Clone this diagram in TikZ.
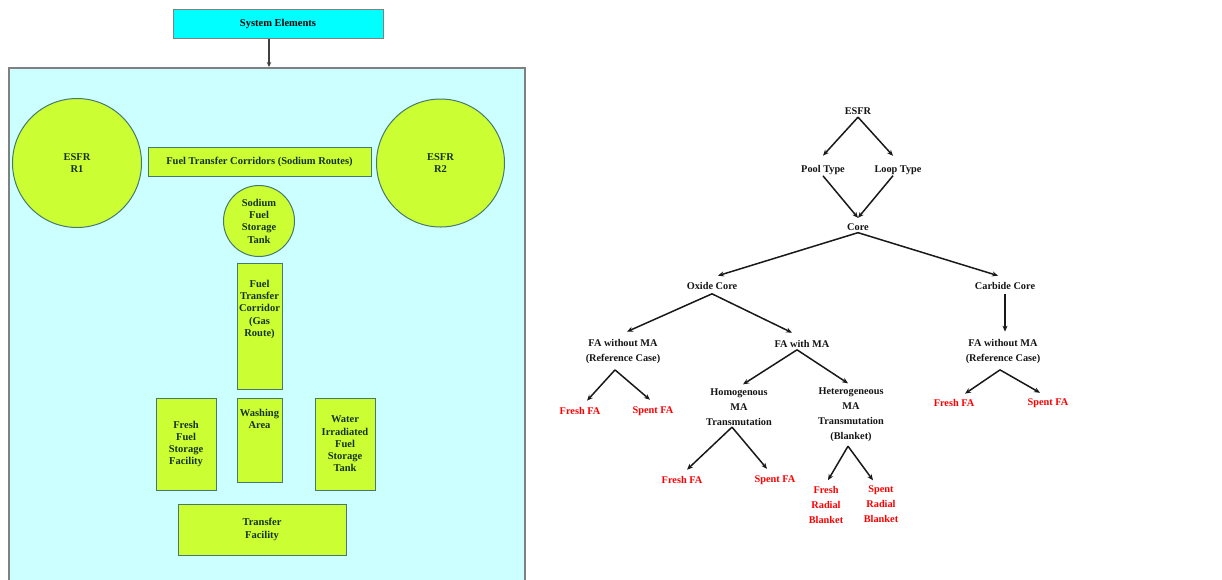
\documentclass[tikz,border=0pt]{standalone}
\usepackage{fontspec}
\setmainfont{Liberation Serif}
\usetikzlibrary{arrows.meta}
\definecolor{cyanbox}{RGB}{0,255,255}
\definecolor{lightcy}{RGB}{204,255,255}
\definecolor{ygreen}{RGB}{204,255,51}
\definecolor{ledge}{RGB}{70,120,110}
\definecolor{ltext}{RGB}{20,50,30}
\definecolor{gborder}{RGB}{128,128,128}
\begin{document}
\begin{tikzpicture}[x=1pt,y=-1pt,
  lfont/.style={font=\fontsize{10.5}{12.3}\selectfont\bfseries},
  rfont/.style={font=\fontsize{10.3}{15}\selectfont\bfseries},
  ybox/.style={draw=ledge,line width=1pt,fill=ygreen,inner sep=0pt,align=center,text=ltext,lfont},
  ycirc/.style={circle,draw=ledge,line width=1pt,fill=ygreen,inner sep=0pt,align=center,text=ltext,lfont},
  rnode/.style={inner sep=0pt,align=center,text={rgb,255:red,20;green,20;blue,20},rfont},
  red/.style={rnode,text={rgb,255:red,255;green,0;blue,0}},
  arr/.style={-{Stealth[length=6pt,width=5pt]},line width=1.5pt,black!90},
  larr/.style={-{Stealth[length=5pt,width=4.5pt]},line width=1.2pt,black!75}]
\useasboundingbox (0,0) rectangle (1222,579);
% ---------- left panel ----------
\node[draw=gborder,line width=1pt,fill=cyanbox,minimum width=210pt,minimum height=29pt,inner sep=0pt,lfont,text=black] (se) at (278,23.5) {System Elements};
\node[draw=gborder,line width=1.5pt,fill=lightcy,minimum width=516pt,minimum height=530pt,inner sep=0pt,anchor=north west] (sys) at (8,67) {};
\draw[larr] ([xshift=-9pt]se.south) -- ([xshift=-9pt]se.south |- sys.north);
\node[ycirc,minimum size=129pt] (r1) at (77,163) {ESFR\\R1};
\node[ycirc,minimum size=128pt] (r2) at (440.5,163) {ESFR\\R2};
\node[ybox,minimum width=223pt,minimum height=29pt] (ftc) at (259.5,161.5) {Fuel Transfer Corridors (Sodium Routes)};
\node[ycirc,minimum size=71pt] (tank) at (259,221) {Sodium\\Fuel\\Storage\\Tank};
\node[ybox] (gas) at (259.5,326) {\parbox[c][126pt][t]{45pt}{\centering\vspace*{17pt}Fuel\\Transfer\\Corridor\\(Gas\\Route)}};
\node[ybox,minimum width=60pt,minimum height=92pt] (ffs) at (186,444) {Fresh\\Fuel\\Storage\\Facility};
\node[ybox] (wash) at (259.5,440) {\parbox[c][84pt][t]{45pt}{\centering\vspace*{11pt}Washing\\Area}};
\node[ybox,minimum width=60pt,minimum height=92pt] (water) at (345,444) {Water\\Irradiated\\Fuel\\Storage\\Tank};
\node[ybox,minimum width=168pt,minimum height=51pt] (tf) at (262,529.5) {Transfer\\Facility};
% ---------- right tree ----------
\node[rnode] (esfr) at (858,111) {ESFR};
\node[rnode] (pool) at (823,170) {Pool Type};
\node[rnode] (loop) at (898,170) {Loop Type};
\node[rnode] (core) at (858,227) {Core};
\node[rnode] (oxide) at (712,286) {Oxide Core};
\node[rnode] (carbide) at (1005,286) {Carbide Core};
\node[rnode] (faw1) at (623,351.5) {FA without MA\\(Reference Case)};
\node[rnode] (fawma) at (802,344) {FA with MA};
\node[rnode] (faw2) at (1003,351.5) {FA without MA\\(Reference Case)};
\node[red] (fresh1) at (580,411) {Fresh FA};
\node[red] (spent1) at (653,411) {Spent FA};
\node[rnode] (homo) at (739,407.5) {Homogenous\\MA\\Transmutation};
\node[rnode] (hetero) at (851,415) {Heterogeneous\\MA\\Transmutation\\(Blanket)};
\node[red] (fresh2) at (682,480) {Fresh FA};
\node[red] (spent2) at (775,480) {Spent FA};
\node[red] (fresh3) at (826,504.5) {Fresh\\Radial\\Blanket};
\node[red] (spent3) at (881,504.5) {Spent\\Radial\\Blanket};
\node[red] (fresh4) at (954,403) {Fresh FA};
\node[red] (spent4) at (1048,403) {Spent FA};
\draw[arr] ([yshift=-2.5pt]esfr.south) -- ([yshift=9.5pt]pool.north);
\draw[arr] ([yshift=-2.5pt]esfr.south) -- ([xshift=-5pt,yshift=9.5pt]loop.north);
\draw[arr] ([yshift=-1pt]pool.south) -- ([yshift=5.5pt]core.north);
\draw[arr] ([xshift=-5pt,yshift=-1pt]loop.south) -- ([yshift=5.5pt]core.north);
\draw[arr] ([yshift=-2pt]core.south) -- ([xshift=6pt,yshift=6.5pt]oxide.north);
\draw[arr] ([yshift=-2pt]core.south) -- ([xshift=-7pt,yshift=6.5pt]carbide.north);
\draw[arr] ([yshift=-4pt]oxide.south) -- ([xshift=4pt,yshift=7.5pt]faw1.north);
\draw[arr] ([yshift=-4pt]oxide.south) -- ([xshift=-10pt,yshift=7.5pt]fawma.north);
\draw[arr] ([yshift=-4pt]carbide.south) -- ([xshift=2pt,yshift=7.5pt]faw2.north);
\draw[arr] ([xshift=-8pt,yshift=-6pt]faw1.south) -- ([xshift=7pt,yshift=6.5pt]fresh1.north);
\draw[arr] ([xshift=-8pt,yshift=-6pt]faw1.south) -- ([xshift=-3pt,yshift=6.5pt]spent1.north);
\draw[arr] ([xshift=-5pt,yshift=-2pt]fawma.south) -- ([xshift=4pt,yshift=4.5pt]homo.north);
\draw[arr] ([xshift=-5pt,yshift=-2pt]fawma.south) -- ([xshift=-3pt,yshift=4.5pt]hetero.north);
\draw[arr] ([xshift=-7pt,yshift=-1pt]homo.south) -- ([xshift=5pt,yshift=6.5pt]fresh2.north);
\draw[arr] ([xshift=-7pt,yshift=-1pt]homo.south) -- ([xshift=-8pt,yshift=6.5pt]spent2.north);
\draw[arr] ([xshift=-3pt,yshift=-4pt]hetero.south) -- ([xshift=2pt,yshift=5.5pt]fresh3.north);
\draw[arr] ([xshift=-3pt,yshift=-4pt]hetero.south) -- ([xshift=-8pt,yshift=5.5pt]spent3.north);
\draw[arr] ([xshift=-3pt,yshift=-6pt]faw2.south) -- ([xshift=11pt,yshift=5.5pt]fresh4.north);
\draw[arr] ([xshift=-3pt,yshift=-6pt]faw2.south) -- ([xshift=-8pt,yshift=5.5pt]spent4.north);
\end{tikzpicture}
\end{document}
